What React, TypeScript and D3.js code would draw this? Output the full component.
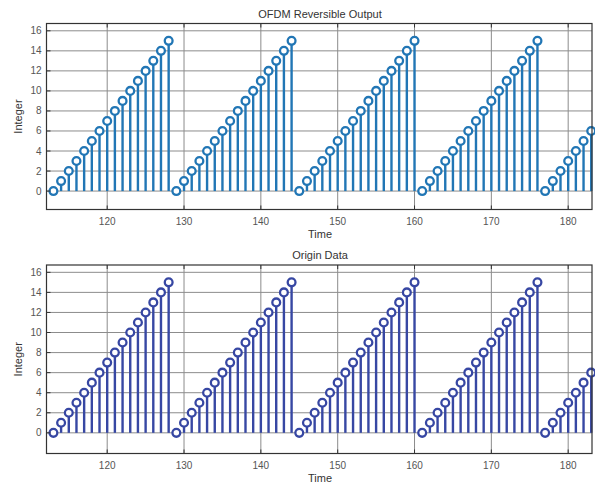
import React from 'react'
import * as d3 from 'd3'

// sample times shown in both panels
const times = d3.range(113, 184)

// OFDM reversible output (top panel)
const outputValues = [
  0, 1, 2, 3, 4, 5, 6, 7, 8, 9, 10, 11, 12, 13, 14, 15,
  0, 1, 2, 3, 4, 5, 6, 7, 8, 9, 10, 11, 12, 13, 14, 15,
  0, 1, 2, 3, 4, 5, 6, 7, 8, 9, 10, 11, 12, 13, 14, 15,
  0, 1, 2, 3, 4, 5, 6, 7, 8, 9, 10, 11, 12, 13, 14, 15,
  0, 1, 2, 3, 4, 5, 6,
]

// origin data (bottom panel)
const originValues = [
  0, 1, 2, 3, 4, 5, 6, 7, 8, 9, 10, 11, 12, 13, 14, 15,
  0, 1, 2, 3, 4, 5, 6, 7, 8, 9, 10, 11, 12, 13, 14, 15,
  0, 1, 2, 3, 4, 5, 6, 7, 8, 9, 10, 11, 12, 13, 14, 15,
  0, 1, 2, 3, 4, 5, 6, 7, 8, 9, 10, 11, 12, 13, 14, 15,
  0, 1, 2, 3, 4, 5, 6,
]

const xTicks = [120, 130, 140, 150, 160, 170, 180]
const yTicks = [0, 2, 4, 6, 8, 10, 12, 14, 16]

const font = 'Liberation Sans, Arial, Helvetica, sans-serif'

type PanelProps = {
  title: string
  values: number[]
  color: string
  top: number
  bottom: number
  yDomain: [number, number]
}

function Panel({ title, values, color, top, bottom, yDomain }: PanelProps) {
  const left = 46.5
  const right = 592
  const x = d3.scaleLinear().domain([112.1, 183.1]).range([left, right])
  const y = d3.scaleLinear().domain(yDomain).range([bottom, top])
  const grid = '#8c8c8c'
  const label = '#555'

  return (
    <g>
      <text x={320} y={top - 6} textAnchor="middle" fontFamily={font} fontSize={11} fill="#333">
        {title}
      </text>

      {/* grid */}
      {xTicks.map(t => (
        <line key={'gx' + t} x1={x(t)} x2={x(t)} y1={top} y2={bottom} stroke={grid} strokeWidth={1} />
      ))}
      {yTicks.map(t => (
        <line key={'gy' + t} x1={left} x2={right} y1={y(t)} y2={y(t)} stroke={grid} strokeWidth={1} />
      ))}

      {/* stems */}
      {values.map((v, i) => (
        <line
          key={'s' + i}
          x1={x(times[i])}
          x2={x(times[i])}
          y1={y(0)}
          y2={y(v)}
          stroke={color}
          strokeWidth={2.4}
        />
      ))}
      {values.map((v, i) => (
        <circle
          key={'c' + i}
          cx={x(times[i])}
          cy={y(v)}
          r={3.9}
          fill="#fff"
          stroke={color}
          strokeWidth={2.3}
        />
      ))}

      {/* frame */}
      <rect x={left} y={top} width={right - left} height={bottom - top} fill="none" stroke="#333" strokeWidth={1.2} />
      {xTicks.map(t => (
        <g key={'tx' + t}>
          <line x1={x(t)} x2={x(t)} y1={bottom} y2={bottom - 4} stroke="#333" />
          <line x1={x(t)} x2={x(t)} y1={top} y2={top + 4} stroke="#333" />
          <text x={x(t)} y={bottom + 15} textAnchor="middle" fontFamily={font} fontSize={10} fill={label}>
            {t}
          </text>
        </g>
      ))}
      {yTicks.map(t => (
        <g key={'ty' + t}>
          <line x1={left} x2={left + 4} y1={y(t)} y2={y(t)} stroke="#333" />
          <text x={left - 5} y={y(t)} dy="0.35em" textAnchor="end" fontFamily={font} fontSize={10} fill={label}>
            {t}
          </text>
        </g>
      ))}

      <text x={320} y={bottom + 28} textAnchor="middle" fontFamily={font} fontSize={11} fill="#333">
        Time
      </text>
      <text
        transform={`translate(22, ${(top + bottom) / 2}) rotate(-90)`}
        textAnchor="middle"
        fontFamily={font}
        fontSize={11}
        fill="#333"
      >
        Integer
      </text>
    </g>
  )
}

export default function App() {
  return (
    <svg
      width={595}
      height={485}
      viewBox="0 0 595 485"
      style={{ position: 'absolute', left: 0, top: 0, background: '#fff' }}
    >
      <rect width={595} height={485} fill="#fff" />
      <Panel
        title="OFDM Reversible Output"
        values={outputValues}
        color="#2176b5"
        top={23.5}
        bottom={209.5}
        yDomain={[-1.84, 16.73]}
      />
      <Panel
        title="Origin Data"
        values={originValues}
        color="#3747a3"
        top={265}
        bottom={453.5}
        yDomain={[-2.06, 16.73]}
      />
    </svg>
  )
}
